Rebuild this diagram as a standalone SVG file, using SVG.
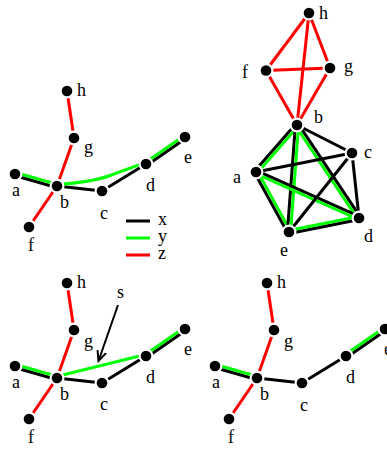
<svg xmlns="http://www.w3.org/2000/svg" width="387" height="450" viewBox="0 0 387 450">
<defs>
<style>
.k{stroke:#000;stroke-width:3;fill:none}
.g{stroke:#00ff00;stroke-width:3;fill:none}
.r{stroke:#ff0000;stroke-width:3;fill:none}
.n{fill:#000;stroke:#fff;stroke-width:4.4;paint-order:stroke}
text{font-family:"Liberation Serif","Times New Roman",serif;font-size:18px;fill:#000}
</style>
<marker id="arr" markerWidth="12" markerHeight="12" refX="10" refY="6" orient="auto" markerUnits="userSpaceOnUse">
<path d="M0,1.5 L10,6 L0,10.5" fill="none" stroke="#000" stroke-width="2"/>
</marker>
</defs>
<rect width="387" height="450" fill="#fff"/>
<g id="connectors">
<!-- top-left -->
<line class="r" x1="67" y1="91" x2="74" y2="138"/>
<line class="r" x1="74" y1="138" x2="57" y2="186"/>
<line class="r" x1="57" y1="186" x2="29" y2="227"/>
<line class="k" x1="14.56" y1="175.54" x2="56.56" y2="187.54"/>
<line class="g" x1="15.44" y1="172.46" x2="57.44" y2="184.46"/>
<line class="k" x1="57" y1="186" x2="102" y2="191"/>
<line class="k" x1="102" y1="191" x2="146" y2="164"/>
<path class="g" d="M57.4,184.4 C80,183 95,181 110,175.5 L145.1,162.7"/>
<line class="k" x1="146.9" y1="165.3" x2="185.9" y2="138.3"/>
<line class="g" x1="145.1" y1="162.7" x2="184.1" y2="135.7"/>
<!-- legend -->
<line class="k" x1="126" y1="221" x2="150" y2="221"/>
<line class="g" x1="126" y1="238" x2="150" y2="238"/>
<line class="r" x1="126" y1="255" x2="150" y2="255"/>
<!-- top-right -->
<line class="r" x1="309" y1="13" x2="266" y2="70.5"/>
<line class="r" x1="309" y1="13" x2="330" y2="68"/>
<line class="r" x1="309" y1="13" x2="297" y2="125"/>
<line class="r" x1="266" y1="70.5" x2="330" y2="68"/>
<line class="r" x1="266" y1="70.5" x2="297" y2="125"/>
<line class="r" x1="330" y1="68" x2="297" y2="125"/>
<line class="k" x1="295.8" y1="123.95" x2="254.8" y2="170.95"/>
<line class="g" x1="298.2" y1="126.05" x2="257.2" y2="173.05"/>
<line class="k" x1="254.6" y1="172.77" x2="287.6" y2="232.77"/>
<line class="g" x1="257.4" y1="171.23" x2="290.4" y2="231.23"/>
<line class="k" x1="289.31" y1="233.57" x2="359.31" y2="219.57"/>
<line class="g" x1="288.69" y1="230.43" x2="358.69" y2="216.43"/>
<line class="k" x1="360.33" y1="217.11" x2="298.33" y2="124.11"/>
<line class="g" x1="357.67" y1="218.89" x2="295.67" y2="125.89"/>
<line class="k" x1="295.4" y1="124.88" x2="287.4" y2="231.88"/>
<line class="g" x1="298.6" y1="125.12" x2="290.6" y2="232.12"/>
<line class="k" x1="256.65" y1="170.54" x2="359.65" y2="216.54"/>
<line class="g" x1="255.35" y1="173.46" x2="358.35" y2="219.46"/>
<line class="k" x1="297" y1="125" x2="352" y2="153"/>
<line class="k" x1="256" y1="172" x2="352" y2="153"/>
<line class="k" x1="352" y1="153" x2="289" y2="232"/>
<line class="k" x1="352" y1="153" x2="359" y2="218"/>
<!-- bottom-left -->
<line class="r" x1="67" y1="283" x2="74" y2="330"/>
<line class="r" x1="74" y1="330" x2="57" y2="378"/>
<line class="r" x1="57" y1="378" x2="29" y2="419"/>
<line class="k" x1="14.56" y1="367.54" x2="56.56" y2="379.54"/>
<line class="g" x1="15.44" y1="364.46" x2="57.44" y2="376.46"/>
<line class="k" x1="57" y1="378" x2="102" y2="383"/>
<line class="k" x1="102" y1="383" x2="146" y2="356"/>
<line class="g" x1="56.6" y1="376.45" x2="145.6" y2="354.45"/>
<line class="k" x1="146.9" y1="357.3" x2="185.9" y2="330.3"/>
<line class="g" x1="145.1" y1="354.7" x2="184.1" y2="327.7"/>
<line x1="118" y1="305" x2="98.5" y2="361" stroke="#000" stroke-width="2" marker-end="url(#arr)"/>
<!-- bottom-right -->
<line class="r" x1="267" y1="283" x2="274" y2="330"/>
<line class="r" x1="274" y1="330" x2="257" y2="378"/>
<line class="r" x1="257" y1="378" x2="229" y2="419"/>
<line class="k" x1="214.56" y1="367.54" x2="256.56" y2="379.54"/>
<line class="g" x1="215.44" y1="364.46" x2="257.44" y2="376.46"/>
<line class="k" x1="257" y1="378" x2="302" y2="383"/>
<line class="k" x1="302" y1="383" x2="346" y2="356"/>
<line class="k" x1="346.9" y1="357.3" x2="385.9" y2="330.3"/>
<line class="g" x1="345.1" y1="354.7" x2="384.1" y2="327.7"/>
</g>
<!-- top-left nodes -->
<g id="tl-h"><circle class="n" cx="67" cy="91" r="5.3"/><text x="77" y="96">h</text></g>
<g id="tl-g"><circle class="n" cx="74" cy="138" r="5.3"/><text x="84" y="153">g</text></g>
<g id="tl-a"><circle class="n" cx="15" cy="174" r="5.3"/><text x="12" y="196">a</text></g>
<g id="tl-b"><circle class="n" cx="57" cy="186" r="5.3"/><text x="60" y="208">b</text></g>
<g id="tl-c"><circle class="n" cx="102" cy="191" r="5.3"/><text x="100" y="219">c</text></g>
<g id="tl-d"><circle class="n" cx="146" cy="164" r="5.3"/><text x="146" y="191">d</text></g>
<g id="tl-e"><circle class="n" cx="185" cy="137" r="5.3"/><text x="184" y="163">e</text></g>
<g id="tl-f"><circle class="n" cx="29" cy="227" r="5.3"/><text x="28" y="251">f</text></g>
<g id="legend"><text x="158" y="225">x</text><text x="158" y="242">y</text><text x="158" y="259">z</text></g>
<!-- top-right nodes -->
<g id="tr-h"><circle class="n" cx="309" cy="13" r="5.3"/><text x="319" y="19">h</text></g>
<g id="tr-f"><circle class="n" cx="266" cy="70.5" r="5.3"/><text x="242" y="78">f</text></g>
<g id="tr-g"><circle class="n" cx="330" cy="68" r="5.3"/><text x="344" y="72">g</text></g>
<g id="tr-b"><circle class="n" cx="297" cy="125" r="5.3"/><text x="314" y="123">b</text></g>
<g id="tr-c"><circle class="n" cx="352" cy="153" r="5.3"/><text x="364" y="158">c</text></g>
<g id="tr-a"><circle class="n" cx="256" cy="172" r="5.3"/><text x="233" y="183">a</text></g>
<g id="tr-d"><circle class="n" cx="359" cy="218" r="5.3"/><text x="364" y="242">d</text></g>
<g id="tr-e"><circle class="n" cx="289" cy="232" r="5.3"/><text x="280" y="256">e</text></g>
<!-- bottom-left nodes -->
<g id="bl-h"><circle class="n" cx="67" cy="283" r="5.3"/><text x="77" y="288">h</text></g>
<g id="bl-g"><circle class="n" cx="74" cy="330" r="5.3"/><text x="84" y="347">g</text></g>
<g id="bl-a"><circle class="n" cx="15" cy="366" r="5.3"/><text x="12" y="388">a</text></g>
<g id="bl-b"><circle class="n" cx="57" cy="378" r="5.3"/><text x="60" y="400">b</text></g>
<g id="bl-c"><circle class="n" cx="102" cy="383" r="5.3"/><text x="100" y="410">c</text></g>
<g id="bl-d"><circle class="n" cx="146" cy="356" r="5.3"/><text x="146" y="383">d</text></g>
<g id="bl-e"><circle class="n" cx="185" cy="329" r="5.3"/><text x="184" y="355">e</text></g>
<g id="bl-f"><circle class="n" cx="29" cy="419" r="5.3"/><text x="28" y="443">f</text></g>
<g id="bl-s"><text x="117" y="298">s</text></g>
<!-- bottom-right nodes -->
<g id="br-h"><circle class="n" cx="267" cy="283" r="5.3"/><text x="277" y="288">h</text></g>
<g id="br-g"><circle class="n" cx="274" cy="330" r="5.3"/><text x="284" y="347">g</text></g>
<g id="br-a"><circle class="n" cx="215" cy="366" r="5.3"/><text x="212" y="388">a</text></g>
<g id="br-b"><circle class="n" cx="257" cy="378" r="5.3"/><text x="260" y="400">b</text></g>
<g id="br-c"><circle class="n" cx="302" cy="383" r="5.3"/><text x="300" y="411">c</text></g>
<g id="br-d"><circle class="n" cx="346" cy="356" r="5.3"/><text x="346" y="383">d</text></g>
<g id="br-e"><circle class="n" cx="385" cy="329" r="5.3"/><text x="384" y="355">e</text></g>
<g id="br-f"><circle class="n" cx="229" cy="419" r="5.3"/><text x="228" y="443">f</text></g>
</svg>
